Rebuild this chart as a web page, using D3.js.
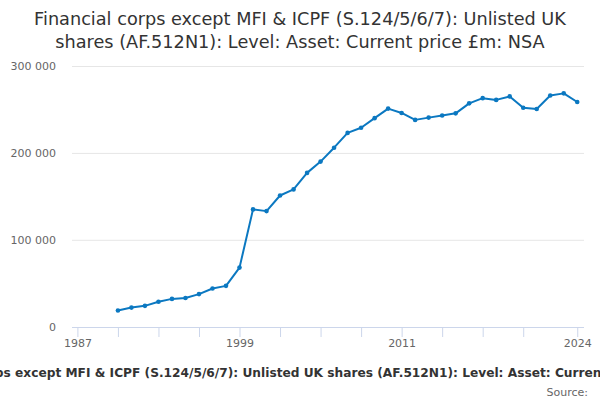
<!DOCTYPE html>
<html lang="en">
<head>
<meta charset="utf-8">
<title>Unlisted UK shares</title>
<script src="https://cdn.jsdelivr.net/npm/d3@7"></script>
<style>
  body { margin: 0; background: #fff; }
  svg { display: block; font-family: "DejaVu Sans", sans-serif; }
</style>
</head>
<body>
<script>
// data (£m)
var years = [1990, 1991, 1992, 1993, 1994, 1995, 1996, 1997, 1998, 1999,
             2000, 2001, 2002, 2003, 2004, 2005, 2006, 2007, 2008, 2009,
             2010, 2011, 2012, 2013, 2014, 2015, 2016, 2017, 2018, 2019,
             2020, 2021, 2022, 2023, 2024];
var values = [18700, 22000, 24000, 28700, 32000, 33000, 37500, 44000, 47000, 68000,
              135000, 133000, 151000, 158000, 177000, 190000, 206000, 223000, 229000, 240000,
              251000, 246000, 238000, 240600, 243000, 245500, 257000, 263000, 261000, 265000,
              252000, 250500, 266000, 268500, 258600];
var xTicks = [1987, 1990, 1993, 1996, 1999, 2002, 2005, 2008, 2011, 2014, 2017, 2020, 2024];
var xLabels = [1987, 1999, 2011, 2024];
var yTicks = [0, 100000, 200000, 300000];

var title = "Financial corps except MFI & ICPF (S.124/5/6/7): Unlisted UK shares (AF.512N1): Level: Asset: Current price £m: NSA";
var titleLines = ["Financial corps except MFI & ICPF (S.124/5/6/7): Unlisted UK",
                  "shares (AF.512N1): Level: Asset: Current price £m: NSA"];

var w = 600, h = 400;
var margin = {left: 72, right: 16, top: 66, bottom: 73};

var svg = d3.select("body").append("svg")
  .attr("width", w)
  .attr("height", h);

var x = d3.scaleLinear()
  .domain([1986.6, 2024.5])
  .range([margin.left, w - margin.right]);

var y = d3.scaleLinear()
  .domain([0, 300000])
  .range([h - margin.bottom - 0.3, margin.top]);

// title
svg.append("text")
  .attr("x", w / 2)
  .attr("y", 25)
  .attr("text-anchor", "middle")
  .attr("fill", "#333")
  .style("font-size", "17.7px")
  .selectAll("tspan")
  .data(titleLines)
  .enter()
  .append("tspan")
  .attr("x", w / 2)
  .attr("dy", function(d, i) { return i == 0 ? 0 : 22.5; })
  .text(function(d) { return d; });

// gridlines
var fmt = function(d) { return d3.format(",")(d).replace(/,/g, " "); };
var yAxis = d3.axisLeft(y)
  .tickValues(yTicks)
  .tickSize(-(w - margin.left - margin.right))
  .tickPadding(16)
  .tickFormat(fmt);

var gy = svg.append("g")
  .attr("transform", "translate(" + margin.left + ",0)")
  .call(yAxis);
gy.select(".domain").remove();
gy.selectAll(".tick line").attr("stroke", "#e6e6e6");
gy.selectAll(".tick").filter(function(d) { return d == 0; }).select("line").remove();
gy.selectAll(".tick text")
  .attr("fill", "#666")
  .style("font-size", "11px")
  .style("font-family", "DejaVu Sans, sans-serif");

// x axis
var xAxis = d3.axisBottom(x)
  .tickValues(xTicks)
  .tickSize(10)
  .tickPadding(2)
  .tickFormat(function(d) { return xLabels.indexOf(d) >= 0 ? d : ""; });

var gx = svg.append("g")
  .attr("transform", "translate(0," + (h - margin.bottom) + ")")
  .call(xAxis);
gx.select(".domain")
  .attr("stroke", "#ccd6eb")
  .attr("d", "M" + margin.left + ",0.5H" + (w - margin.right));
gx.selectAll(".tick line").attr("stroke", "#ccd6eb");
gx.selectAll(".tick text")
  .attr("fill", "#666")
  .style("font-size", "11px")
  .style("font-family", "DejaVu Sans, sans-serif");

// line
var pts = years.map(function(d, i) { return {year: d, value: values[i]}; });

var line = d3.line()
  .x(function(d) { return x(d.year); })
  .y(function(d) { return y(d.value); });

svg.append("path")
  .datum(pts)
  .attr("fill", "none")
  .attr("stroke", "#0b78c1")
  .attr("stroke-width", 2)
  .attr("stroke-linejoin", "round")
  .attr("d", line);

svg.selectAll("circle.pt")
  .data(pts)
  .enter()
  .append("circle")
  .attr("class", "pt")
  .attr("cx", function(d) { return x(d.year); })
  .attr("cy", function(d) { return y(d.value); })
  .attr("r", 2.3)
  .attr("fill", "#0b78c1");

// caption (wider than the picture, cut off at both edges as in the original) and source
svg.append("text")
  .attr("x", 308)
  .attr("y", 377)
  .attr("text-anchor", "middle")
  .attr("fill", "#333")
  .style("font-size", "12.2px")
  .style("font-weight", "bold")
  .text(title);

svg.append("text")
  .attr("x", 588)
  .attr("y", 396)
  .attr("text-anchor", "end")
  .attr("fill", "#666")
  .style("font-size", "11px")
  .text("Source:");
</script>
</body>
</html>
